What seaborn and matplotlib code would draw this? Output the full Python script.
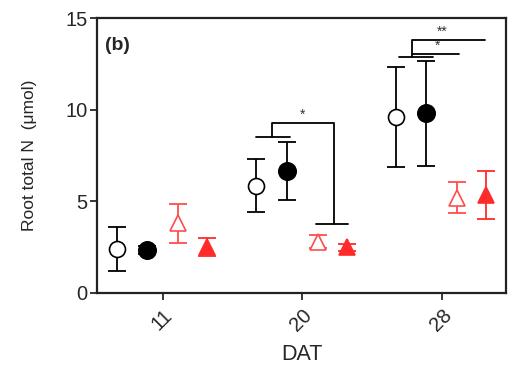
import matplotlib
matplotlib.use("Agg")
import matplotlib.pyplot as plt
import seaborn as sns
import numpy as np
import pandas as pd

# ---- data ----
dat_labels = ["11", "20", "28"]
treatments = ["open_circle", "filled_circle", "open_triangle", "filled_triangle"]
mean_open_circle = [2.4, 5.85, 9.6]
err_open_circle = [1.2, 1.45, 2.75]
mean_filled_circle = [2.35, 6.65, 9.8]
err_filled_circle = [0.2, 1.6, 2.85]
mean_open_triangle = [3.8, 2.8, 5.2]
err_open_triangle = [1.05, 0.35, 0.85]
mean_filled_triangle = [2.5, 2.5, 5.35]
err_filled_triangle = [0.5, 0.2, 1.3]

means = [mean_open_circle, mean_filled_circle, mean_open_triangle, mean_filled_triangle]
errs = [err_open_circle, err_filled_circle, err_open_triangle, err_filled_triangle]

rows = []
for t, m, e in zip(treatments, means, errs):
    for i, d in enumerate(dat_labels):
        rows.append({"DAT": d, "idx": i, "treatment": t, "mean": m[i], "err": e[i]})
df = pd.DataFrame(rows)

sns.set_style("ticks", {"axes.spines.top": True, "axes.spines.right": True})
plt.rcParams['font.family'] = ['Liberation Sans', 'DejaVu Sans']

fig = plt.figure(figsize=(5.09, 3.69), dpi=100)
ax = fig.add_axes([97/509, 76/369, 409/509, 275/369])

red = "#ff2b2b"
styles = {
    "open_circle": dict(marker="o", mfc="white", mec="black", color="black", ms=11.5, off=-0.33),
    "filled_circle": dict(marker="o", mfc="black", mec="black", color="black", ms=12.5, off=-0.11),
    "open_triangle": dict(marker="^", mfc="white", mec="#ff4d4d", color="#ff4d4d", ms=11, off=0.11),
    "filled_triangle": dict(marker="^", mfc=red, mec=red, color=red, ms=11, off=0.32),
}

for t in treatments:
    s = styles[t]
    sub = df[df.treatment == t]
    x = sub["idx"].to_numpy() + s["off"]
    ax.errorbar(x, sub["mean"], yerr=sub["err"], fmt="none", ecolor=s["color"],
                elinewidth=1.3, capsize=6.5, capthick=1.3, zorder=2)
    ax.plot(x, sub["mean"], linestyle="none", marker=s["marker"], ms=s["ms"],
            mfc=s["mfc"], mec=s["mec"], mew=1.2, zorder=3)

# ---- significance brackets ----
lw = 1.3
# DAT 20
c = 1
ax.plot([c - 0.33, c - 0.086], [8.53, 8.53], color="black", lw=lw)
ax.plot([c - 0.215, c - 0.215, c + 0.23, c + 0.23], [8.53, 9.3, 9.3, 3.75], color="black", lw=lw)
ax.plot([c + 0.10, c + 0.33], [3.75, 3.75], color="black", lw=lw)
ax.text(c, 9.35, "*", ha="center", va="bottom", fontsize=10, color="#333333")
# DAT 28
c = 2
ax.plot([c - 0.31, c - 0.064], [12.85, 12.85], color="black", lw=lw)
ax.plot([c - 0.214, c - 0.214, c + 0.31], [12.85, 13.8, 13.8], color="black", lw=lw)
ax.plot([c - 0.214, c + 0.12], [13.05, 13.05], color="black", lw=lw)
ax.text(c, 13.85, "**", ha="center", va="bottom", fontsize=10, color="#333333")
ax.text(c - 0.03, 13.1, "*", ha="center", va="bottom", fontsize=10, color="#333333")

ax.set_xlim(-0.471, 2.46)
ax.set_ylim(0, 15)
ax.set_yticks([0, 5, 10, 15])
ax.set_xticks(range(len(dat_labels)))
ax.set_xticklabels(dat_labels, rotation=45, ha="right", rotation_mode="anchor", fontsize=14.5)
ax.tick_params(axis="y", labelsize=14.5, length=5, width=1.3, pad=2)
ax.tick_params(axis="x", length=5, width=1.3, pad=4)
for sp in ax.spines.values():
    sp.set_visible(True)
    sp.set_linewidth(1.6)
    sp.set_color("#222222")
    sp.set_zorder(10)

ax.set_xlabel("DAT", fontsize=15.5, labelpad=7)
ax.set_ylabel("Root total N  (μmol)", fontsize=12.5, labelpad=20)
ax.text(0.02, 0.90, "(b)", transform=ax.transAxes, fontsize=14, fontweight="bold",
        ha="left", va="center")

fig.savefig("out.png", dpi=100)
